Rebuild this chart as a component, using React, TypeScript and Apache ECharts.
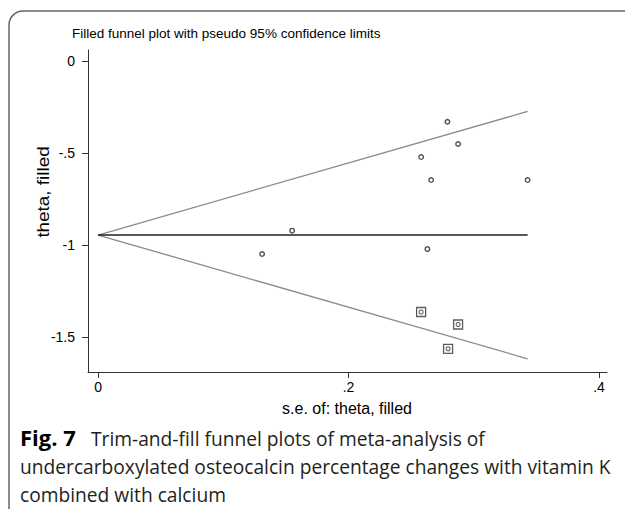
import React, { useEffect, useRef } from "react";
import * as echarts from "echarts";

const seObserved = [0.279, 0.2875, 0.258, 0.266, 0.343, 0.155, 0.131, 0.263];
const thetaObserved = [-0.33, -0.451, -0.522, -0.647, -0.647, -0.922, -1.049, -1.022];
const seFilled = [0.258, 0.2875, 0.2795];
const thetaFilled = [-1.364, -1.432, -1.564];
const funnelSe = [0, 0.343];
const upperLimit = [-0.946, -0.274];
const lowerLimit = [-0.946, -1.618];
const pooledTheta = [-0.946, -0.946];
const xTicks = [0, 0.2, 0.4];
const xTickLabels = ["0", ".2", ".4"];
const yTicks = [0, -0.5, -1, -1.5];
const yTickLabels = ["0", "-.5", "-1", "-1.5"];

const titleText = "Filled funnel plot with pseudo 95% confidence limits";
const xTitle = "s.e. of: theta, filled";
const yTitle = "theta, filled";
const captionBold = "Fig. 7";
const captionLines = [
  "Trim-and-fill funnel plots of meta-analysis of",
  "undercarboxylated osteocalcin percentage changes with vitamin K",
  "combined with calcium",
];

const AX = "Liberation Sans, Arial, sans-serif";
const CAP = "Open Sans, Noto Sans, sans-serif";

function lookup(v: number, ticks: number[], labels: string[]) {
  for (let i = 0; i < ticks.length; i++) {
    if (Math.abs(ticks[i] - v) < 1e-6) return labels[i];
  }
  return "";
}

export default function App() {
  const ref = useRef<HTMLDivElement>(null);
  useEffect(() => {
    if (!ref.current) return;
    const chart = echarts.init(ref.current, undefined, { renderer: "svg" });
    const pair = (xs: number[], ys: number[]) => xs.map((x, i) => [x, ys[i]]);
    const capText = (text: string, x: number, y: number) => ({
      type: "text",
      x,
      y,
      style: {
        text,
        fill: "#231f20",
        font: `19.2px ${CAP}`,
        textAlign: "left",
        textVerticalAlign: "middle",
      },
    });
    chart.setOption({
      animation: false,
      backgroundColor: "#fff",
      grid: { left: 88, top: 50, right: 18, bottom: 137 },
      xAxis: {
        type: "value",
        min: -0.008,
        max: 0.4064,
        splitLine: { show: false },
        axisLine: { show: true, onZero: false, lineStyle: { color: "#333", width: 1 } },
        axisTick: { show: true, customValues: xTicks, length: 6, lineStyle: { color: "#333" } },
        axisLabel: {
          customValues: xTicks,
          margin: 8,
          color: "#000",
          fontFamily: AX,
          fontSize: 14,
          formatter: (v: number) => lookup(v, xTicks, xTickLabels),
        },
      },
      yAxis: {
        type: "value",
        min: -1.69,
        max: 0.0598,
        splitLine: { show: false },
        axisLine: { show: true, onZero: false, lineStyle: { color: "#333", width: 1 } },
        axisTick: { show: true, customValues: yTicks, length: 6, lineStyle: { color: "#333" } },
        axisLabel: {
          customValues: yTicks,
          margin: 13,
          color: "#000",
          fontFamily: AX,
          fontSize: 14,
          formatter: (v: number) => lookup(v, yTicks, yTickLabels),
        },
      },
      series: [
        {
          type: "line",
          data: pair(funnelSe, upperLimit),
          symbol: "none",
          lineStyle: { color: "#8a8a8a", width: 1.3 },
        },
        {
          type: "line",
          data: pair(funnelSe, lowerLimit),
          symbol: "none",
          lineStyle: { color: "#8a8a8a", width: 1.3 },
        },
        {
          type: "line",
          data: pair(funnelSe, pooledTheta),
          symbol: "none",
          lineStyle: { color: "#222", width: 1.5 },
        },
        {
          type: "scatter",
          data: pair(seObserved, thetaObserved),
          symbol: "circle",
          symbolSize: 4.5,
          itemStyle: { color: "#fff", borderColor: "#222", borderWidth: 1.4 },
        },
        {
          type: "scatter",
          data: pair(seFilled, thetaFilled),
          symbol: "rect",
          symbolSize: 9,
          itemStyle: { color: "#fff", borderColor: "#333", borderWidth: 1.3 },
        },
        {
          type: "scatter",
          data: pair(seFilled, thetaFilled),
          symbol: "circle",
          symbolSize: 4,
          itemStyle: { color: "#fff", borderColor: "#333", borderWidth: 1.1 },
        },
      ],
      graphic: [
        {
          type: "rect",
          shape: { x: 9, y: 11, width: 700, height: 600, r: [14, 0, 0, 0] },
          style: { fill: "none", stroke: "#666", lineWidth: 1.5 },
          silent: true,
        },
        {
          type: "text",
          x: 72,
          y: 33,
          style: {
            text: titleText,
            fill: "#000",
            font: `13.5px ${AX}`,
            textAlign: "left",
            textVerticalAlign: "middle",
          },
        },
        {
          type: "text",
          x: 44,
          y: 192,
          rotation: Math.PI / 2,
          scaleX: 1.18,
          style: {
            text: yTitle,
            fill: "#000",
            font: `16px ${AX}`,
            textAlign: "center",
            textVerticalAlign: "middle",
          },
        },
        {
          type: "text",
          x: 347,
          y: 408,
          style: {
            text: xTitle,
            fill: "#000",
            font: `16px ${AX}`,
            textAlign: "center",
            textVerticalAlign: "middle",
          },
        },
        {
          type: "text",
          x: 20,
          y: 437,
          style: {
            text: captionBold,
            fill: "#000",
            font: `bold 22px ${CAP}`,
            textAlign: "left",
            textVerticalAlign: "middle",
          },
        },
        capText(captionLines[0], 91, 438),
        capText(captionLines[1], 20, 466),
        capText(captionLines[2], 20, 494),
      ],
    });
    return () => chart.dispose();
  }, []);
  return (
    <div
      ref={ref}
      style={{ position: "fixed", left: 0, top: 0, width: 625, height: 509, background: "#fff" }}
    />
  );
}
